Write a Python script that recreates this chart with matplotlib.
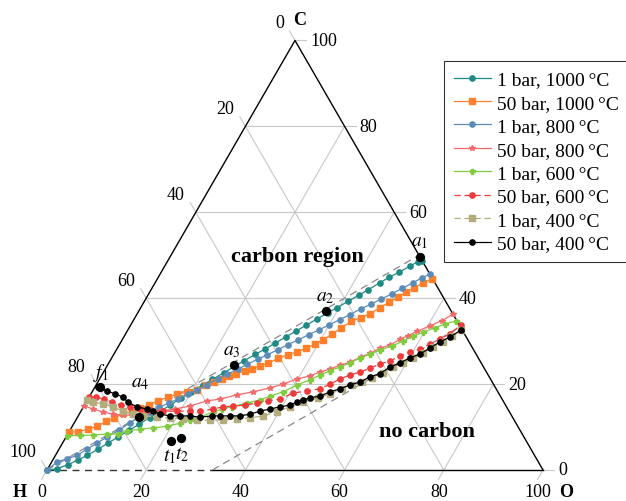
import numpy as np
import matplotlib
matplotlib.use("Agg")
import matplotlib.pyplot as plt

plt.rcParams['font.family'] = ['Liberation Serif', 'DejaVu Serif']
plt.rcParams['mathtext.fontset'] = 'stix'

# ---------------- data (ternary percentages: O, C ; H = 100 - O - C) ----------------
teal_O = [0, 1.8, 3.6, 5.0, 6.4, 7.9, 9.1, 10.5, 11.9, 13.2, 14.6, 15.9, 17.3, 18.7, 20.0, 21.5, 22.8, 24.3, 25.7,
          27.0, 28.5, 29.9, 31.2, 32.7, 34.1, 35.4, 36.9, 38.3, 39.6, 41.1, 42.5, 43.8, 45.3, 46.6, 48.0, 49.4, 50.5, 51.3]
teal_C = [0, 0.3, 1.2, 2.3, 3.4, 4.9, 6.2, 7.7, 9.2, 10.6, 12.2, 13.6, 15.1, 16.8, 18.2, 19.8, 21.1, 22.6, 24.1,
          25.4, 26.9, 28.2, 29.5, 31.0, 32.4, 33.7, 35.2, 36.6, 37.8, 39.3, 40.7, 42.0, 43.6, 44.9, 46.1, 47.4, 48.5, 48.7]

orng_O = [0, 1.8, 3.5, 5.0, 6.3, 7.5, 8.8, 10.3, 11.6, 13.0, 14.4, 15.9, 17.5, 19.2, 20.9, 22.2, 23.4, 24.6, 25.8,
          27.0, 28.3, 29.6, 30.8, 32.2, 33.6, 35.1, 36.6, 38.0, 39.4, 40.5, 41.6, 42.8, 44.0, 45.5, 47.0, 48.2, 49.4,
          50.6, 51.7, 52.8, 54.0, 55.4]
orng_C = [8.8, 8.9, 9.5, 10.2, 11.3, 12.0, 13.2, 13.6, 14.4, 15.2, 16.1, 17.0, 17.6, 18.2, 18.7, 19.7, 20.5, 21.2,
          21.8, 22.4, 23.1, 23.6, 24.2, 24.9, 26.0, 26.8, 27.5, 28.3, 29.3, 30.3, 31.6, 33.0, 34.6, 35.5, 36.4, 37.8,
          39.0, 40.2, 41.4, 42.4, 43.5, 44.5]

blue_O = [0, 1.1, 2.8, 4.4, 5.7, 7.0, 8.3, 9.9, 11.2, 12.5, 13.9, 15.3, 16.8, 18.2, 19.6, 21.0, 22.4, 23.8, 25.2,
          26.7, 28.1, 29.6, 31.0, 32.5, 34.0, 35.5, 37.0, 38.5, 40.0, 41.5, 43.0, 44.5, 46.0, 47.5, 49.0, 50.5, 52.0,
          53.3, 54.4]
blue_C = [0, 1.9, 2.6, 3.4, 4.9, 6.3, 7.7, 9.3, 10.9, 12.4, 13.4, 14.6, 15.6, 16.6, 17.6, 18.6, 19.9, 21.2, 22.3,
          23.5, 24.6, 25.8, 26.8, 28.0, 29.2, 30.3, 31.5, 32.6, 33.8, 35.0, 36.2, 37.5, 38.6, 39.8, 41.0, 42.3, 43.6,
          44.8, 45.6]

rthn_O = [0, 2.2, 4.5, 6.8, 8.9, 10.9, 13.1, 15.9, 18.7, 21.4, 24.2, 26.6, 29.6, 32.4, 35.4, 37.6, 39.8, 42.1,
          43.6, 45.3, 46.9, 48.5, 50.1, 51.6, 53.0, 54.7, 56.0, 57.1, 58.5, 60.5, 62.3, 63.7]
rthn_C = [14.9, 14.2, 13.5, 13.0, 12.8, 12.8, 13.3, 13.7, 14.2, 14.9, 16.1, 16.5, 17.5, 18.2, 19.1, 20.0, 21.2,
          21.9, 22.8, 23.5, 24.4, 25.1, 26.3, 27.2, 28.4, 29.1, 30.5, 31.2, 32.3, 33.6, 34.8, 36.3]

gren_O = [0, 2.6, 5.2, 7.9, 10.1, 11.6, 14.0, 16.5, 19.1, 21.4, 23.0, 24.7, 26.7, 28.2, 29.9, 32.5, 34.8, 36.4,
          38.5, 40.5, 42.5, 44.0, 45.5, 47.1, 48.6, 50.1, 51.6, 53.2, 55.1, 56.8, 58.2, 59.8, 61.7, 63.2, 65.1]
gren_C = [7.9, 8.1, 8.1, 8.4, 8.4, 9.1, 9.5, 9.8, 10.2, 10.9, 11.6, 12.3, 13.5, 14.2, 14.7, 15.6, 16.3, 17.2,
          18.2, 19.8, 21.0, 22.1, 23.1, 24.0, 24.9, 26.1, 27.0, 27.9, 28.9, 30.0, 31.2, 32.1, 33.1, 34.0, 34.7]

rdsh_O = [0, 1.4, 3.2, 5.2, 7.4, 9.4, 11.6, 13.8, 16.5, 19.4, 22.0, 24.0, 26.4, 28.1, 30.1, 32.4, 34.5, 36.5,
          38.7, 40.6, 43.2, 45.6, 47.1, 48.5, 50.0, 51.7, 53.3, 54.8, 56.5, 57.9, 59.4, 61.1, 62.6, 64.0, 65.4, 66.6]
rdsh_C = [17.0, 17.0, 16.5, 15.8, 15.1, 14.7, 14.2, 14.0, 13.7, 13.7, 13.7, 13.7, 14.2, 14.7, 14.9, 15.1, 15.6,
          16.1, 16.5, 17.9, 18.4, 18.9, 20.0, 21.2, 22.1, 22.8, 23.7, 24.7, 25.4, 26.5, 27.5, 28.2, 29.3, 30.5,
          31.7, 33.8]

oliv_O = [0, 1.4, 3.6, 6.0, 8.5, 10.8, 13.1, 16.0, 18.8, 21.5, 24.4, 27.1, 29.7, 32.4, 34.9, 37.3, 39.6, 41.6,
          43.7, 46.2, 48.2, 50.0, 51.6, 53.3, 54.8, 56.4, 57.8, 59.3, 60.7, 62.2, 63.5, 64.9, 66.1, 67.2]
oliv_C = [16.3, 15.8, 15.4, 14.7, 13.7, 13.0, 12.6, 12.3, 12.1, 11.9, 11.6, 11.6, 11.6, 11.9, 12.1, 12.6, 13.5,
          14.7, 15.8, 16.8, 17.7, 18.9, 19.8, 20.5, 21.4, 22.6, 24.0, 24.9, 26.1, 27.2, 28.6, 29.8, 31.2, 32.6]

blck_O = [0.6, 2.9, 4.9, 6.8, 8.4, 10.8, 13.1, 14.5, 16.3, 18.5, 20.5, 22.5, 24.7, 27.0, 28.6, 30.6, 32.6, 34.4,
          36.1, 37.9, 39.6, 41.4, 42.5, 43.5, 44.6, 46.4, 48.0, 49.6, 51.2, 52.9, 54.3, 55.9, 57.2, 58.7, 60.1,
          61.7, 63.0, 64.3, 65.8, 67.2]
blck_C = [19.3, 18.4, 17.7, 17.0, 15.8, 14.7, 14.2, 13.7, 13.0, 12.6, 12.6, 12.6, 12.3, 12.6, 12.6, 12.6, 12.6,
          13.0, 13.7, 14.2, 14.7, 15.1, 15.8, 16.3, 16.8, 17.2, 18.2, 18.9, 19.8, 20.5, 21.7, 22.4, 24.0, 24.9,
          26.1, 27.0, 28.4, 29.8, 31.0, 32.6]

series_labels = ['1 bar, 1000\u2009°C', '50 bar, 1000\u2009°C', '1 bar, 800\u2009°C', '50 bar, 800\u2009°C',
                 '1 bar, 600\u2009°C', '50 bar, 600\u2009°C', '1 bar, 400\u2009°C', '50 bar, 400\u2009°C']

# annotated points (O, C)
pt_names = [r'$a_1$', r'$a_2$', r'$a_3$', r'$a_4$', r'$f_1$', r'$t_1$', r'$t_2$']
pt_O = [50.4, 37.7, 25.5, 12.4, 1.0, 21.6, 23.3]
pt_C = [49.6, 37.0, 24.4, 12.3, 19.3, 6.75, 7.45]
pt_off = [(0, 15), (-1, 15), (-2, 15), (1, 35), (1, 15), (-1, -15), (1, -16)]

ticks = [0, 20, 40, 60, 80, 100]

# ---------------- helpers ----------------
S3 = np.sqrt(3) / 2


def tern(O, C):
    O = np.asarray(O, float) / 100.0
    C = np.asarray(C, float) / 100.0
    return O + C / 2.0, C * S3


fig = plt.figure(figsize=(6.26, 5.02), dpi=100)
ax = fig.add_axes([0, 0, 1, 1])
ax.set_xlim(-47 / 496, 579 / 496)
ax.set_ylim(-31 / 496, 471 / 496)
ax.axis('off')

gridc = '#c8c8c8'
TFS = 13
# grid lines
for v in [20, 40, 60, 80]:
    for (o1, c1, o2, c2) in [(0, v, 100 - v, v), (v, 0, v, 100 - v), (0, 100 - v, 100 - v, 0)]:
        x, y = tern([o1, o2], [c1, c2])
        ax.plot(x, y, color=gridc, lw=0.8, zorder=1)

# ticks and tick labels
tl = 0.022
for v in ticks:
    # left axis (H)
    x, y = tern(0, 100 - v)
    ax.plot([x, x - 0.5 * tl], [y, y + S3 * tl], color=gridc, lw=0.8, zorder=1)
    ax.annotate(str(v), (x, y), xytext=(-11, 18), textcoords='offset pixels', ha='right', va='center',
                fontsize=TFS)
    # right axis (C)
    x, y = tern(100 - v, v)
    ax.plot([x, x + tl], [y, y], color=gridc, lw=0.8, zorder=1)
    ax.annotate(str(v), (x, y), xytext=(15, 0), textcoords='offset pixels', ha='left', va='center',
                fontsize=TFS)
    # bottom axis (O)
    x, y = tern(v, 0)
    ax.plot([x, x - 0.5 * tl], [y, y - S3 * tl], color=gridc, lw=0.8, zorder=1)
    ax.annotate(str(v), (x, y), xytext=(-5, -22), textcoords='offset pixels', ha='center', va='center',
                fontsize=TFS)

# triangle edges
x, y = tern([0, 0, 100], [0, 100, 0])
ax.plot(x, y, color='black', lw=1.0, zorder=2)
x, y = tern([100 / 3, 100], [0, 0])
ax.plot(x, y, color='black', lw=1.0, zorder=2)
x, y = tern([0, 100 / 3], [0, 0])
ax.plot(x, y, color='#333333', lw=1.0, ls=(0, (5, 4)), zorder=2)
# dashed reference lines
x, y = tern([0, 50], [0, 50])
ax.plot(x, y, color='#888888', lw=0.9, ls=(0, (6, 4)), zorder=2)
x, y = tern([100 / 3, 200 / 3], [0, 100 / 3])
ax.plot(x, y, color='#888888', lw=0.9, ls=(0, (6, 4)), zorder=2)

# vertex labels
ax.annotate('C', tern(0, 100), xytext=(5, 21), textcoords='offset pixels',
            ha='center', va='center', fontsize=TFS, fontweight='bold')
ax.annotate('H', tern(0, 0), xytext=(-27, -22), textcoords='offset pixels', ha='center', va='center',
            fontsize=TFS, fontweight='bold')
ax.annotate('O', tern(100, 0), xytext=(23, -22), textcoords='offset pixels', ha='center', va='center',
            fontsize=TFS, fontweight='bold')

# series
styles = [
    dict(color='#1f8a84', marker='o', ms=3.8, ls='-'),
    dict(color='#ff7f2a', marker='s', ms=4.4, ls='-'),
    dict(color='#5b8cb8', marker='o', ms=3.8, ls='-'),
    dict(color='#f46a6a', marker='*', ms=4.0, ls='-'),
    dict(color='#7fcc3e', marker='P', ms=3.6, ls='-'),
    dict(color='#ee3a3a', marker='o', ms=3.8, ls=(0, (5, 3))),
    dict(color='#b3ac7c', marker='s', ms=4.4, ls=(0, (5, 3))),
    dict(color='black', marker='o', ms=3.8, ls='-'),
]
data = [(teal_O, teal_C), (orng_O, orng_C), (blue_O, blue_C), (rthn_O, rthn_C),
        (gren_O, gren_C), (rdsh_O, rdsh_C), (oliv_O, oliv_C), (blck_O, blck_C)]
handles = []
for (o, c), st, lab in zip(data, styles, series_labels):
    x, y = tern(o, c)
    h, = ax.plot(x, y, lw=0.9, label=lab, zorder=3, **st)
    handles.append(h)

# annotated points
x, y = tern(pt_O, pt_C)
ax.scatter(x, y, s=32, color='black', zorder=5)
for xi, yi, name, off in zip(x, y, pt_names, pt_off):
    ax.annotate(name, (xi, yi), xytext=off, textcoords='offset pixels', ha='center', va='center', fontsize=14)

# region labels
ax.text(0.504, 0.431, 'carbon region', ha='center', va='center', fontsize=16, fontweight='bold')
ax.text(0.766, 0.079, 'no carbon', ha='center', va='center', fontsize=16, fontweight='bold')

leg = ax.legend(handles=handles, loc='upper left', bbox_to_anchor=(444 / 626, 1 - 62 / 502),
                bbox_transform=fig.transFigure, frameon=True, fancybox=False, edgecolor='black',
                fontsize=14, handlelength=1.9, labelspacing=0.3, borderpad=0.5, handletextpad=0.35,
                borderaxespad=0)
leg.get_frame().set_linewidth(0.8)

fig.savefig('out.png', dpi=100)
